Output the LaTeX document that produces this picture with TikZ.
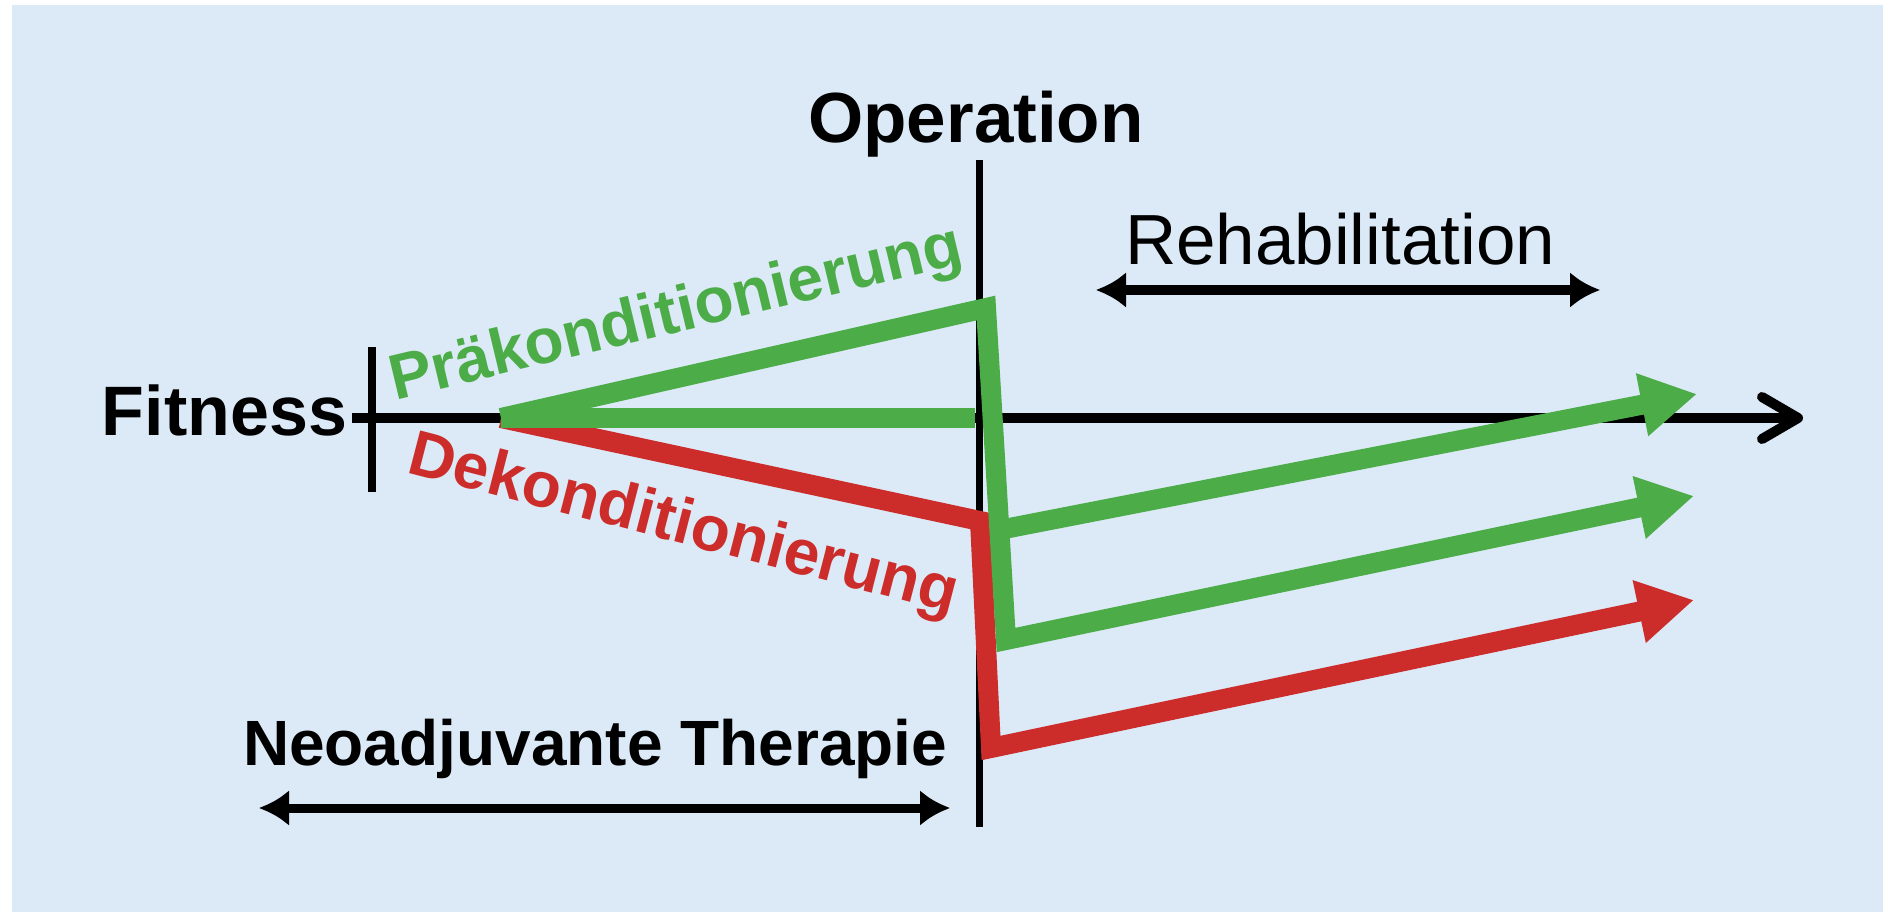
\documentclass[tikz,border=0pt]{standalone}
\usepackage{fontspec}
\setmainfont{Liberation Sans}
\usetikzlibrary{arrows.meta}
\definecolor{bgblue}{RGB}{220,234,247}
\definecolor{fgreen}{RGB}{76,172,72}
\definecolor{fred}{RGB}{204,44,42}
\begin{document}
\begin{tikzpicture}[x=1pt,y=-1pt,line join=miter,
  txt/.style={inner sep=0pt,outer sep=0pt},
  bigbold/.style={txt,font=\bfseries\fontsize{70}{80}\selectfont},
  midbold/.style={txt,font=\bfseries\fontsize{64}{74}\selectfont},
  regtxt/.style={txt,font=\fontsize{71}{80}\selectfont},
  blackline/.style={draw=black,line width=8pt},
  span/.style={draw=black,line width=9pt,{Latex[length=30pt,width=36pt]}-{Latex[length=30pt,width=36pt]}},
  gline/.style={draw=fgreen,line width=20pt},
  rline/.style={draw=fred,line width=20pt},
  gtip/.style={-{Triangle[length=56pt,width=60pt]}}
]
\fill[white] (0,0) rectangle (1883,912);
\fill[bgblue] (12,5) rectangle (1883,912);
\useasboundingbox (0,0) rectangle (1883,912);

% coordinates
\coordinate (axS) at (352,418);
\coordinate (axE) at (1803,418);
\coordinate (tkT) at (372,347);
\coordinate (tkB) at (372,492);
\coordinate (opT) at (979,160);
\coordinate (opB) at (979,827);
\coordinate (st) at (501,418);
\coordinate (gTop) at (986,308);
\coordinate (gMid) at (975,418);
\coordinate (gJ1) at (999,530);
\coordinate (gJ2) at (1006,640);
\coordinate (gT1) at (1697,394);
\coordinate (gT2) at (1694,496);
\coordinate (rTop) at (980,521);
\coordinate (rBot) at (991,748);
\coordinate (rT) at (1694,600);
\coordinate (nL) at (259,808);
\coordinate (nR) at (950,808);
\coordinate (rhL) at (1096,290);
\coordinate (rhR) at (1600,290);

% black structure
\draw[blackline,line width=10pt,-{Straight Barb[length=36pt,width=42pt,round]}] (axS) -- (axE);
\draw[blackline] (tkT) -- (tkB);
\draw[blackline,line width=7pt] (opT) -- (opB);

% labels
\node[bigbold,anchor=base east] (fit) at (347,435) {Fitness};
\node[bigbold,anchor=base,font=\bfseries\fontsize{71}{80}\selectfont] (op) at (976,143) {Operation};
\node[regtxt,anchor=base west] (reh) at (1125,265) {Rehabilitation};
\node[midbold,anchor=base west] (neo) at (243,765) {Neoadjuvante Therapie};
\node[midbold,anchor=base west,rotate=13.5,text=fgreen] (prae) at (395,400) {Präkonditionierung};
\node[midbold,anchor=base west,rotate=-14.5,text=fred] (dek) at (405,472) {Dekonditionierung};

% span arrows
\draw[span] (nL) -- (nR);
\draw[span] (rhL) -- (rhR);

% red path
\draw[rline,gtip] (st) -- (rTop) -- (rBot) -- (rT);

% green paths
\draw[gline] (st) -- (gMid);
\draw[gline,gtip] (st) -- (gTop) -- (gJ2) -- (gT2);
\draw[gline,gtip] (gJ1) -- (gT1);
\end{tikzpicture}
\end{document}
